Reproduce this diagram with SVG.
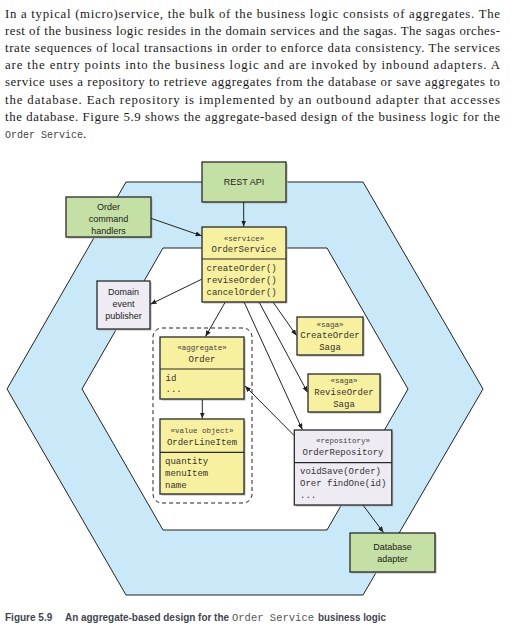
<svg xmlns="http://www.w3.org/2000/svg" width="513" height="643" viewBox="0 0 513 643">
<defs>
<marker id="ah" markerWidth="6" markerHeight="5" refX="6" refY="2.5" orient="auto" markerUnits="userSpaceOnUse">
<path d="M0,0 L6,2.5 L0,5 Z" fill="#222"/>
</marker>
<style>
.para{font-family:"Liberation Serif","Times New Roman",serif;font-size:12.8px;fill:#1a1a1a}
.pmono{font-family:"Liberation Mono","Courier New",monospace;font-size:10px;fill:#444}
.sans{font-family:"Liberation Sans",Arial,sans-serif;font-size:9px;fill:#222;text-anchor:middle}
.mono{font-family:"Liberation Mono","Courier New",monospace;font-size:9px;fill:#333}
.st{font-family:"Liberation Mono","Courier New",monospace;font-size:7.5px;fill:#444;text-anchor:middle}
.c{text-anchor:middle}
.box{stroke:#2a2a2a;stroke-width:1.3}
.sh{fill:#b8b8b8}
.green{fill:#c5e0a4}
.yellow{fill:#f7f09e}
.lav{fill:#efebf3}
.div{stroke:#2a2a2a;stroke-width:1.2}
.conn line{stroke:#222;stroke-width:1;marker-end:url(#ah)}
.cap{font-family:"Liberation Sans",Arial,sans-serif;font-size:10px;font-weight:bold;fill:#3f4650}
.capm{font-family:"Liberation Mono","Courier New",monospace;font-size:10.5px;fill:#555}
</style>
</defs>
<rect width="513" height="643" fill="#ffffff"/>

<g id="paragraph">
<text class="para" x="5" y="17.5" textLength="495" lengthAdjust="spacing">In a typical (micro)service, the bulk of the business logic consists of aggregates. The</text>
<text class="para" x="5" y="34.7" textLength="495" lengthAdjust="spacing">rest of the business logic resides in the domain services and the sagas. The sagas orches-</text>
<text class="para" x="5" y="51.9" textLength="495" lengthAdjust="spacing">trate sequences of local transactions in order to enforce data consistency. The services</text>
<text class="para" x="5" y="69.1" textLength="495" lengthAdjust="spacing">are the entry points into the business logic and are invoked by inbound adapters. A</text>
<text class="para" x="5" y="86.3" textLength="495" lengthAdjust="spacing">service uses a repository to retrieve aggregates from the database or save aggregates to</text>
<text class="para" x="5" y="103.5" textLength="495" lengthAdjust="spacing">the database. Each repository is implemented by an outbound adapter that accesses</text>
<text class="para" x="5" y="120.7" textLength="495" lengthAdjust="spacing">the database. Figure 5.9 shows the aggregate-based design of the business logic for the</text>
<text class="pmono" x="5" y="138">Order Service<tspan class="para">.</tspan></text>
</g>

<g id="hexagons">
<polygon points="126,182 363,182 483,389 363,595 126,595 7,389" fill="#c9e9f8" stroke="#222" stroke-width="1"/>
<polygon points="163,248 327,248 408,389 327,530 163,530 82,389" fill="#ffffff" stroke="#222" stroke-width="1"/>
</g>

<g id="aggregate-boundary">
<rect x="153" y="328" width="99" height="175" rx="9" ry="9" fill="none" stroke="#222" stroke-width="1" stroke-dasharray="4,3"/>
</g>

<g id="rest-api">
<rect class="sh" x="203.5" y="163.5" width="84" height="40"/>
<rect class="box green" x="202" y="162" width="84" height="40"/>
<text class="sans" x="244" y="185">REST API</text>
</g>

<g id="order-command-handlers">
<rect class="sh" x="67.5" y="198.5" width="85" height="40"/>
<rect class="box green" x="66" y="197" width="85" height="40"/>
<text class="sans" x="108.5" y="209.5">Order</text>
<text class="sans" x="108.5" y="221.5">command</text>
<text class="sans" x="108.5" y="233.5">handlers</text>
</g>

<g id="domain-event-publisher">
<rect class="sh" x="98.5" y="282.5" width="53" height="48"/>
<rect class="box lav" x="97" y="281" width="53" height="48"/>
<text class="sans" x="123.5" y="295">Domain</text>
<text class="sans" x="123.5" y="307">event</text>
<text class="sans" x="123.5" y="319">publisher</text>
</g>

<g id="order-service">
<rect class="sh" x="203.5" y="228.5" width="84" height="75"/>
<rect class="box yellow" x="202" y="227" width="84" height="75"/>
<line class="div" x1="202" y1="259" x2="286" y2="259"/>
<text class="st" x="244" y="240.5">«service»</text>
<text class="mono c" x="244" y="252">OrderService</text>
<text class="mono" x="206.5" y="271.3">createOrder()</text>
<text class="mono" x="206.5" y="283">reviseOrder()</text>
<text class="mono" x="206.5" y="295.3">cancelOrder()</text>
</g>

<g id="order">
<rect class="sh" x="161.5" y="338.5" width="84" height="62"/>
<rect class="box yellow" x="160" y="337" width="84" height="62"/>
<line class="div" x1="160" y1="369" x2="244" y2="369"/>
<text class="st" x="202" y="350">«aggregate»</text>
<text class="mono c" x="202" y="362">Order</text>
<text class="mono" x="165.5" y="381.3">id</text>
<text class="mono" x="165.5" y="392">...</text>
</g>

<g id="order-line-item">
<rect class="sh" x="161.5" y="420.5" width="84" height="75"/>
<rect class="box yellow" x="160" y="419" width="84" height="75"/>
<line class="div" x1="160" y1="452.3" x2="244" y2="452.3"/>
<text class="st" x="202" y="433">«value object»</text>
<text class="mono c" x="202" y="445">OrderLineItem</text>
<text class="mono" x="165" y="464.3">quantity</text>
<text class="mono" x="165" y="476">menuItem</text>
<text class="mono" x="165" y="488">name</text>
</g>

<g id="create-order-saga">
<rect class="sh" x="298.5" y="318.5" width="66" height="38"/>
<rect class="box yellow" x="297" y="317" width="66" height="38"/>
<text class="st" x="330" y="326.5">«saga»</text>
<text class="mono c" x="330" y="338.3">CreateOrder</text>
<text class="mono c" x="330" y="350.3">Saga</text>
</g>

<g id="revise-order-saga">
<rect class="sh" x="309.5" y="375.5" width="72" height="38"/>
<rect class="box yellow" x="308" y="374" width="72" height="38"/>
<text class="st" x="344" y="383">«saga»</text>
<text class="mono c" x="344" y="395.3">ReviseOrder</text>
<text class="mono c" x="344" y="407.3">Saga</text>
</g>

<g id="order-repository">
<rect class="sh" x="295.8" y="431.5" width="97.5" height="75"/>
<rect class="box lav" x="294.3" y="430" width="97.5" height="75"/>
<line class="div" x1="294.3" y1="462.7" x2="391.8" y2="462.7"/>
<text class="st" x="343" y="443">«repository»</text>
<text class="mono c" x="343" y="455.3">OrderRepository</text>
<text class="mono" x="300" y="474">voidSave(Order)</text>
<text class="mono" x="300" y="486">Orer findOne(id)</text>
<text class="mono" x="300" y="497.5">...</text>
</g>

<g id="database-adapter">
<rect class="sh" x="351.5" y="534.5" width="85" height="39"/>
<rect class="box green" x="350" y="533" width="85" height="39"/>
<text class="sans" x="392.5" y="550">Database</text>
<text class="sans" x="392.5" y="562">adapter</text>
</g>

<g id="connectors" class="conn">
<line x1="243.7" y1="202" x2="243.7" y2="226.5"/>
<line x1="151" y1="218.3" x2="201.5" y2="235.8"/>
<line x1="201.5" y1="279.3" x2="150.5" y2="304.2"/>
<line x1="225" y1="302.5" x2="205.5" y2="336.5"/>
<line x1="273.3" y1="302.5" x2="296.5" y2="335.5"/>
<line x1="259.3" y1="302.5" x2="307.5" y2="392.3"/>
<line x1="244.3" y1="302.5" x2="302.3" y2="429.5"/>
<line x1="294.3" y1="435.7" x2="245" y2="386"/>
<line x1="202.3" y1="399.5" x2="202.3" y2="418.5"/>
<line x1="363.3" y1="505.5" x2="383.5" y2="532.5"/>
</g>

<g id="caption">
<text class="cap" x="5" y="620.5">Figure 5.9</text>
<text class="cap" x="65" y="620.5" textLength="164" lengthAdjust="spacingAndGlyphs">An aggregate-based design for the</text>
<text class="capm" x="232" y="620.5" textLength="82" lengthAdjust="spacing">Order Service</text>
<text class="cap" x="318" y="620.5" textLength="68" lengthAdjust="spacingAndGlyphs">business logic</text>
</g>
</svg>
